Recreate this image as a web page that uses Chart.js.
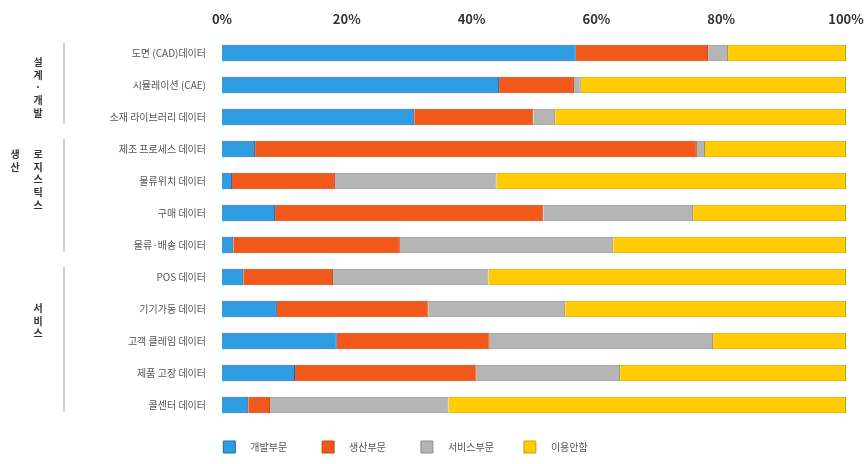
<!DOCTYPE html>
<html>
<head>
<meta charset="utf-8">
<script src="https://cdn.jsdelivr.net/npm/chart.js@4.4.0/dist/chart.umd.min.js"></script>
<style>
  html, body { margin: 0; padding: 0; background: #fff; }
  #wrap { width: 865px; height: 464px; }
</style>
</head>
<body>
<div id="wrap"><canvas id="mychart"></canvas></div>
<script>
// categories (top to bottom)
var categories = ['도면 (CAD)데이터', '시뮬레이션 (CAE)', '소재 라이브러리 데이터', '제조 프로세스 데이터',
  '물류위치 데이터', '구매 데이터', '물류·배송 데이터', 'POS 데이터', '기기가동 데이터',
  '고객 클레임 데이터', '제품 고장 데이터', '콜센터 데이터'];

// series values, %
var devValues = [56.7, 44.4, 30.8, 5.3, 1.6, 8.5, 1.8, 3.4, 8.8, 18.4, 11.7, 4.2];
var prodValues = [21.2, 12.0, 19.1, 70.8, 16.5, 43.0, 26.7, 14.4, 24.3, 24.5, 29.1, 3.5];
var serviceValues = [3.2, 1.1, 3.5, 1.3, 25.9, 24.0, 34.2, 24.9, 21.9, 35.8, 23.0, 28.6];
var unusedValues = [18.9, 42.5, 46.6, 22.6, 56.0, 24.5, 37.3, 57.3, 45.0, 21.3, 36.2, 63.7];

var seriesNames = ['개발부문', '생산부문', '서비스부문', '이용안함'];
var xTicks = [0, 20, 40, 60, 80, 100];

// left group labels: [first row, last row, label columns]
var groups = [
  { from: 0, to: 2, cols: [['설', '계', '·', '개', '발']] },
  { from: 3, to: 6, cols: [['로', '지', '스', '틱', '스'], ['생', '산']] },
  { from: 7, to: 11, cols: [['서', '비', '스']] }
];

var FONT = "'Noto Sans CJK KR', 'Noto Sans', sans-serif";

// draws the vertical group lines + stacked group text on the left
var groupPlugin = {
  id: 'groupLabels',
  afterDraw: function(chart) {
    var ctx = chart.ctx;
    var yScale = chart.scales.y;
    ctx.save();
    groups.forEach(function(g, gi) {
      var top = yScale.getPixelForValue(g.from) - 10;
      var bottom = yScale.getPixelForValue(g.to) + 7;
      ctx.strokeStyle = '#d0d0d0';
      ctx.lineWidth = 2;
      ctx.beginPath();
      ctx.moveTo(64, top);
      ctx.lineTo(64, bottom);
      ctx.stroke();

      ctx.fillStyle = '#333';
      ctx.font = 'bold 10px ' + FONT;
      ctx.textAlign = 'center';
      ctx.textBaseline = 'middle';
      var startY;
      if (gi == 0) startY = yScale.getPixelForValue(0) + 9;
      else if (gi == 1) startY = yScale.getPixelForValue(3) + 5;
      else startY = yScale.getPixelForValue(8) - 1;
      g.cols.forEach(function(col, ci) {
        var x = ci == 0 ? 38 : 15;
        col.forEach(function(ch, k) {
          ctx.fillText(ch, x, startY + k * 12.8);
        });
      });
    });
    ctx.restore();
  }
};

var ctx = document.getElementById('mychart');
var myChart = new Chart(ctx, {
  type: 'bar',
  data: {
    labels: categories,
    datasets: [
      { label: seriesNames[0], data: devValues, backgroundColor: '#2f9de2', borderColor: '#2566ad', borderWidth: 1 },
      { label: seriesNames[1], data: prodValues, backgroundColor: '#f1591b', borderColor: '#c2430f', borderWidth: 1 },
      { label: seriesNames[2], data: serviceValues, backgroundColor: '#b5b5b5', borderColor: '#8c8c8c', borderWidth: 1 },
      { label: seriesNames[3], data: unusedValues, backgroundColor: '#ffcc00', borderColor: '#c9a200', borderWidth: 1 }
    ]
  },
  options: {
    indexAxis: 'y',
    responsive: true,
    maintainAspectRatio: false,
    animation: false,
    barPercentage: 1,
    categoryPercentage: 0.52,
    layout: { padding: { top: 6, right: 19, bottom: 1, left: 0 } },
    scales: {
      x: {
        position: 'top',
        stacked: true,
        min: 0,
        max: 100,
        afterBuildTicks: function(scale) {
          scale.ticks = xTicks.map(function(v) { return { value: v }; });
        },
        grid: { display: false, drawTicks: false },
        border: { display: false },
        ticks: {
          padding: 10,
          color: '#333',
          font: { family: FONT, size: 13, weight: 'bold' },
          callback: function(v) { return v + '%'; }
        },
        afterFit: function(scale) {
          scale.height = 31;
          scale.paddingRight = 0;
          scale.paddingLeft = 0;
        }
      },
      y: {
        stacked: true,
        grid: { display: false, drawTicks: false },
        border: { display: false },
        ticks: {
          padding: 16,
          color: '#555',
          font: { family: FONT, size: 10 }
        },
        afterFit: function(scale) { scale.width = 222; }
      }
    },
    plugins: {
      tooltip: { enabled: false },
      legend: {
        position: 'bottom',
        align: 'center',
        labels: {
          boxWidth: 12,
          boxHeight: 12,
          padding: 20,
          color: '#555',
          font: { family: FONT, size: 10 },
          // widen the gap box->text and item spacing like the original
          generateLabels: function(chart) {
            var items = Chart.defaults.plugins.legend.labels.generateLabels(chart);
            var tails = ['\u2002\u2002\u2002', '\u2002\u2002\u2002', '\u2002\u2002', '\u2003\u2003\u2003\u2002'];
            items.forEach(function(it, i) {
              it.text = '\u2002\u2002' + it.text + tails[i];
            });
            return items;
          }
        }
      }
    }
  },
  plugins: [groupPlugin]
});
</script>
</body>
</html>
